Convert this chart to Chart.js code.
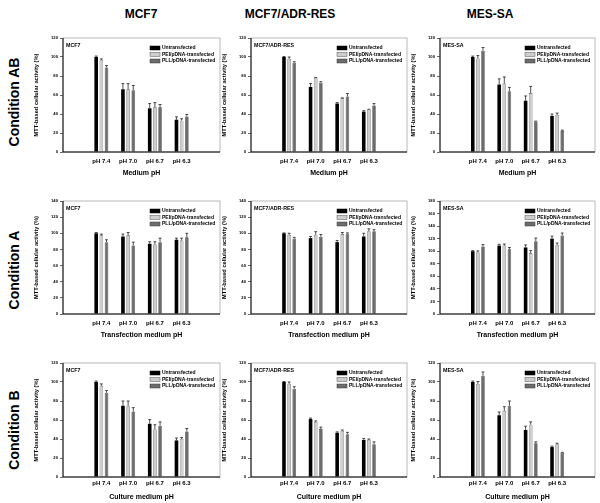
<!DOCTYPE html>
<html>
<head>
<meta charset="utf-8">
<script src="https://cdn.jsdelivr.net/npm/chart.js@4.4.1/dist/chart.umd.min.js"></script>
<style>
body { margin:0; background:#fff; width:600px; height:503px; position:relative; overflow:hidden; font-family:"Liberation Sans", Arial, sans-serif; }
canvas { position:absolute; }
.col { position:absolute; top:7px; font-weight:bold; font-size:12px; transform:translateX(-50%); white-space:nowrap; }
.row { position:absolute; left:14px; font-weight:bold; font-size:14px; white-space:nowrap; transform:translate(-50%,-50%) rotate(-90deg); }
</style>
</head>
<body>
<div class="col" style="left:141px">MCF7</div>
<div class="col" style="left:290px">MCF7/ADR-RES</div>
<div class="col" style="left:490px">MES-SA</div>
<div class="row" style="top:102px">Condition AB</div>
<div class="row" style="top:270px">Condition A</div>
<div class="row" style="top:430px">Condition B</div>
<script>
// data
const phLabels = ['pH 7.4', 'pH 7.0', 'pH 6.7', 'pH 6.3'];
const seriesNames = ['Untransfected', 'PEI/pDNA-transfected', 'PLL/pDNA-transfected'];
const cellLines = ['MCF7', 'MCF7/ADR-RES', 'MES-SA'];
const xTitles = ['Medium pH', 'Transfection medium pH', 'Culture medium pH'];
const yMax = [[120, 120, 120], [140, 140, 180], [120, 120, 120]];

// condition AB  (rows = untransfected, PEI, PLL)
const abMcf7 = [[100, 66, 46, 34], [97, 66, 47, 33], [89, 65, 47, 37.5]];
const abMcf7Err = [[1, 6, 5, 3], [1, 6, 5, 2], [2, 5, 3, 2]];
const abAdr = [[100, 68.5, 51, 42.5], [98, 78, 56.5, 44.5], [94, 73, 58.5, 49]];
const abAdrErr = [[0.5, 3.5, 1, 1], [2, 0.5, 0.5, 0.5], [1, 1, 3, 2]];
const abMes = [[100, 71, 54, 38], [98.5, 72, 62, 39], [106.5, 64, 32, 22]];
const abMesErr = [[1, 6, 5, 2], [3, 7, 7, 2], [3.5, 4, 0.5, 1]];

// condition A
const aMcf7 = [[100, 96, 87, 92], [97.5, 97.5, 86, 91], [89, 85, 89, 95]];
const aMcf7Err = [[1, 3, 2.5, 2], [1.5, 3.5, 3.5, 3], [3, 4, 5, 5]];
const aAdr = [[100, 94, 89, 96], [98, 98, 99, 102.5], [93.5, 95.5, 99.5, 102.5]];
const aAdrErr = [[0.5, 2, 2, 4], [2, 4, 2, 3], [1.5, 3, 1, 2]];
const aMes = [[100, 109, 106, 120], [98.5, 109, 97, 110], [107.5, 103, 116, 125]];
const aMesErr = [[1, 2, 4, 4], [2, 2.5, 4, 3], [3, 3, 5, 4]];

// condition B
const bMcf7 = [[100, 75, 56, 38.5], [96, 74.5, 50, 40], [88.5, 69, 54, 48]];
const bMcf7Err = [[1, 5, 4.5, 2.5], [2, 5.5, 5, 1.5], [2.5, 4, 4, 3]];
const bAdr = [[100, 61, 46.5, 39], [98, 58, 48.5, 39], [93, 50.5, 45, 34.5]];
const bAdrErr = [[0.5, 1, 1, 1.5], [2, 1, 1, 1], [2, 2, 2, 2.5]];
const bMes = [[100, 65, 49.5, 31.5], [98, 69.5, 55, 34.5], [106.5, 75, 35.5, 25.5]];
const bMesErr = [[1, 3.5, 4, 1], [2.5, 4.5, 3, 1], [4, 5, 1.5, 0.5]];

const panelValues = [[abMcf7, abAdr, abMes], [aMcf7, aAdr, aMes], [bMcf7, bAdr, bMes]];
const panelErrors = [[abMcf7Err, abAdrErr, abMesErr], [aMcf7Err, aAdrErr, aMesErr], [bMcf7Err, bAdrErr, bMesErr]];

// layout
const fam = "'Liberation Sans', Arial, sans-serif";
const fills = ['#000000', '#cdcdcd', '#6c6c6c'];
const edges = ['#000000', '#555555', '#3a3a3a'];
const plotLeft = [63, 251, 440];
const plotWidth = [157, 156, 155];
const plotTop = [38, 201, 363];
const plotHeight = [114, 113, 114];
const xAxisH = [25, 25, 24];
const xTickPad = [5.4, 5.4, 3];

Chart.defaults.font.family = fam;
Chart.defaults.color = '#000';

const errorBars = {
  id: 'errorBars',
  afterDatasetsDraw(chart) {
    const ctx = chart.ctx, y = chart.scales.y;
    ctx.save();
    ctx.strokeStyle = '#222';
    ctx.lineWidth = 0.8;
    chart.data.datasets.forEach((ds, i) => {
      chart.getDatasetMeta(i).data.forEach((bar, j) => {
        const top = y.getPixelForValue(ds.data[j].y + ds.errors[j]);
        const half = bar.width * 0.4;
        ctx.beginPath();
        ctx.moveTo(bar.x, bar.y);
        ctx.lineTo(bar.x, top);
        ctx.moveTo(bar.x - half, top);
        ctx.lineTo(bar.x + half, top);
        ctx.stroke();
      });
    });
    ctx.restore();
  }
};

const panelDecor = {
  id: 'panelDecor',
  afterDraw(chart, args, opts) {
    const ctx = chart.ctx, a = chart.chartArea;
    ctx.save();
    ctx.strokeStyle = '#a8a8a8';
    ctx.lineWidth = 0.8;
    ctx.strokeRect(a.left, a.top, a.right - a.left, a.bottom - a.top);
    ctx.strokeStyle = '#000';
    ctx.lineWidth = 1;
    ctx.beginPath();
    ctx.moveTo(a.left, a.top);
    ctx.lineTo(a.left, a.bottom);
    ctx.lineTo(a.right, a.bottom);
    ctx.stroke();

    ctx.fillStyle = '#000';
    ctx.textBaseline = 'middle';
    ctx.font = 'bold 5.3px ' + fam;
    ctx.fillText(opts.name, a.left + 3, a.top + 8);

    ctx.font = 'bold 5px ' + fam;
    chart.data.datasets.forEach((ds, i) => {
      const y = a.top + 10 + i * 6.5;
      ctx.fillStyle = ds.backgroundColor;
      ctx.fillRect(a.right - 70, y - 2, 10, 4);
      ctx.strokeStyle = ds.borderColor;
      ctx.lineWidth = 0.5;
      ctx.strokeRect(a.right - 70, y - 2, 10, 4);
      ctx.fillStyle = '#000';
      ctx.fillText(ds.label, a.right - 58, y);
    });
    ctx.restore();
  }
};

for (let r = 0; r < 3; r++) {
  for (let c = 0; c < 3; c++) {
    const cv = document.createElement('canvas');
    cv.width = 30 + plotWidth[c] + 4;
    cv.height = 5 + plotHeight[r] + xAxisH[r] + 1;
    cv.style.left = (plotLeft[c] - 30) + 'px';
    cv.style.top = (plotTop[r] - 5) + 'px';
    document.body.appendChild(cv);

    const datasets = seriesNames.map((name, s) => ({
      label: name,
      data: panelValues[r][c][s].map((v, j) => ({ x: j, y: v })),
      errors: panelErrors[r][c][s],
      backgroundColor: fills[s],
      borderColor: edges[s],
      borderWidth: s === 0 ? 0 : 0.6,
      categoryPercentage: 0.58,
      barPercentage: 0.7
    }));

    new Chart(cv, {
      type: 'bar',
      data: { datasets: datasets },
      options: {
        responsive: false,
        animation: false,
        layout: { padding: { top: 5, right: 4, bottom: 1, left: 0 } },
        plugins: {
          legend: { display: false },
          tooltip: { enabled: false },
          panelDecor: { name: cellLines[c] }
        },
        scales: {
          x: {
            type: 'linear',
            min: -0.7,
            max: 3.7,
            grid: { display: false, drawTicks: false },
            border: { display: false },
            afterBuildTicks: (scale) => { scale.ticks = phLabels.map((_, i) => ({ value: i })); },
            afterFit: (scale) => { scale.height = xAxisH[r]; },
            ticks: {
              autoSkip: false,
              maxRotation: 0,
              padding: xTickPad[r],
              font: { size: 6, weight: 'bold' },
              callback: (v) => phLabels[v]
            },
            title: { display: true, text: xTitles[r], padding: 0, font: { size: 7, weight: 'bold' } }
          },
          y: {
            min: 0,
            max: yMax[r][c],
            grid: { drawOnChartArea: false, drawTicks: true, tickLength: 3, color: '#000', lineWidth: 0.6 },
            border: { display: false },
            afterFit: (scale) => { scale.width = 30; },
            ticks: { stepSize: 20, autoSkip: false, padding: 2, font: { size: 4.2, weight: 'bold' } },
            title: { display: true, text: 'MTT-based cellular activity (%)', padding: 0, font: { size: 5.7, weight: 'bold' } }
          }
        }
      },
      plugins: [errorBars, panelDecor]
    });
  }
}
</script>
</body>
</html>
